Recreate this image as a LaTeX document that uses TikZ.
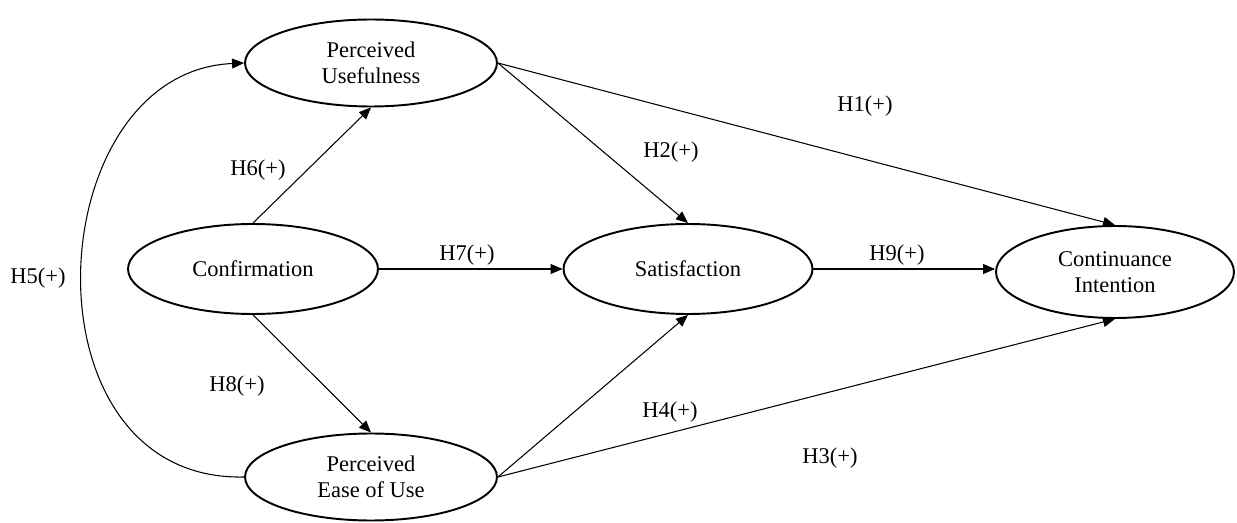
\documentclass[tikz,border=0pt]{standalone}
\usepackage{fontspec}
\setmainfont{Liberation Serif}
\usetikzlibrary{shapes,arrows.meta,positioning,calc}

\tikzset{
    construct/.style={draw, ellipse, line width=1.1pt, inner sep=0pt, align=center,
        font=\fontsize{12.8}{14.6}\selectfont},
    link/.style={-{Triangle[length=0.24cm,width=0.2cm]}, line width=0.6pt},
    hypo/.style={font=\fontsize{12.8}{14.6}\selectfont}
}

\begin{document}
\begin{tikzpicture}[x=0.02cm, y=-0.02cm]
    \useasboundingbox (0,0) rectangle (1237,523);

    % Constructs
    \node[construct, minimum width=5.04cm, minimum height=1.74cm] (pu) at (371,63) {Perceived\\Usefulness};
    \node[construct, minimum width=5.0cm, minimum height=1.8cm] (conf) at (253,269) {Confirmation};
    \node[construct, minimum width=4.98cm, minimum height=1.8cm] (sat) at (688,269) {Satisfaction};
    \node[construct, minimum width=4.76cm, minimum height=1.84cm] (ci) at (1115,272) {Continuance\\Intention};
    \node[construct, minimum width=5.04cm, minimum height=1.74cm] (peu) at (371,477) {Perceived\\Ease of Use};

    % Paths from Confirmation
    \draw[link] (conf.north) -- (pu.south);
    \draw[link] (conf.east) -- (sat.west);
    \draw[link] (conf.south) -- (peu.north);

    % Paths from Perceived Usefulness
    \draw[link] (pu.east) -- (sat.north);
    \draw[link] (pu.east) -- (ci.north);

    % Paths from Perceived Ease of Use
    \draw[link] (peu.east) -- (sat.south);
    \draw[link] (peu.east) -- (ci.south);
    \draw[link] (peu.west) .. controls (18,482) and (38,72) .. (pu.west);

    % Satisfaction to Continuance Intention
    \draw[link] (sat.east) -- (sat.east -| ci.west);

    % Hypotheses
    \node[hypo] (h1) at (865,106) {H1(+)};
    \node[hypo] (h2) at (671,152) {H2(+)};
    \node[hypo] (h3) at (830,458) {H3(+)};
    \node[hypo] (h4) at (670,412) {H4(+)};
    \node[hypo] (h5) at (38,278) {H5(+)};
    \node[hypo] (h6) at (258,170) {H6(+)};
    \node[hypo] (h7) at (467,255) {H7(+)};
    \node[hypo] (h8) at (237,386) {H8(+)};
    \node[hypo] (h9) at (897,255) {H9(+)};
\end{tikzpicture}
\end{document}
